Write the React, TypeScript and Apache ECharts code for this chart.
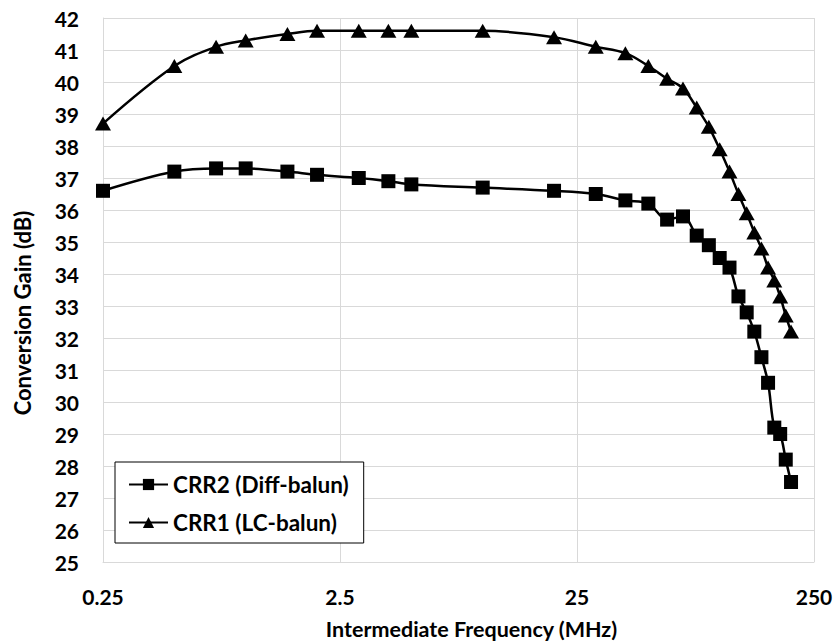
import React, { useEffect, useRef } from "react";
import * as echarts from "echarts";

const freqMHz = [0.25, 0.5, 0.75, 1, 1.5, 2, 3, 4, 5, 10, 20, 30, 40, 50, 60, 70, 80, 90, 100, 110, 120, 130, 140, 150, 160, 170, 180, 190, 200];
const crr2Gain = [36.6, 37.2, 37.3, 37.3, 37.2, 37.1, 37.0, 36.9, 36.8, 36.7, 36.6, 36.5, 36.3, 36.2, 35.7, 35.8, 35.2, 34.9, 34.5, 34.2, 33.3, 32.8, 32.2, 31.4, 30.6, 29.2, 29.0, 28.2, 27.5];
const crr1Gain = [38.7, 40.5, 41.1, 41.3, 41.5, 41.6, 41.6, 41.6, 41.6, 41.6, 41.4, 41.1, 40.9, 40.5, 40.1, 39.8, 39.2, 38.6, 37.9, 37.2, 36.5, 35.9, 35.3, 34.8, 34.2, 33.8, 33.3, 32.7, 32.2];
const xTickValues = [0.25, 2.5, 25, 250];
const seriesNames = ["CRR2 (Diff-balun)", "CRR1 (LC-balun)"];
const xTitle = "Intermediate Frequency (MHz)";
const yTitle = "Conversion Gain (dB)";

const FONT = "Lato";

export default function App() {
  const ref = useRef<HTMLDivElement>(null);
  useEffect(() => {
    document.body.style.margin = "0";
    const chart = echarts.init(ref.current!, undefined, { renderer: "svg" });
    const grid = "#d9d9d9";
    const pair = (ys: number[]) => freqMHz.map((f, i) => [f, ys[i]]);
    chart.setOption({
      animation: false,
      backgroundColor: "#ffffff",
      grid: { left: 103, right: 21, top: 18, bottom: 81, containLabel: false, outerBoundsMode: "none" },
      legend: {
        orient: "vertical",
        left: 115,
        top: 462,
        backgroundColor: "#ffffff",
        borderColor: "#000000",
        borderWidth: 1,
        borderRadius: 0,
        padding: [11, 15, 9, 13],
        itemGap: 15,
        itemWidth: 39,
        itemHeight: 14,
        textStyle: { fontFamily: FONT, fontWeight: "bold", fontSize: 22.5, color: "#000" },
        data: seriesNames,
      },
      xAxis: {
        type: "log",
        logBase: 10,
        min: 0.25,
        max: 250,
        name: xTitle,
        nameLocation: "middle",
        nameGap: 56,
        nameTextStyle: { fontFamily: FONT, fontWeight: "bold", fontSize: 21.5, color: "#000", padding: [0, 0, 0, 26] },
        axisLine: { show: true, lineStyle: { color: grid, width: 1 } },
        axisTick: { show: false, customValues: xTickValues },
        minorTick: { show: false },
        splitLine: { show: true, lineStyle: { color: grid, width: 1 } },
        axisLabel: {
          customValues: xTickValues,
          margin: 24,
          fontFamily: FONT,
          fontWeight: "bold",
          fontSize: 21,
          color: "#000",
          formatter: (v: number) => String(Number(Number(v).toPrecision(6))),
        },
      },
      yAxis: {
        type: "value",
        min: 25,
        max: 42,
        interval: 1,
        name: yTitle,
        nameLocation: "middle",
        nameGap: 70,
        nameRotate: 90,
        nameTextStyle: { fontFamily: FONT, fontWeight: "bold", fontSize: 22, color: "#000", padding: [0, 46, 0, 0] },
        axisLine: { show: true, lineStyle: { color: grid, width: 1 } },
        axisTick: { show: false },
        splitLine: { show: true, lineStyle: { color: grid, width: 1 } },
        axisLabel: { margin: 24, fontFamily: FONT, fontWeight: "bold", fontSize: 21, color: "#000" },
      },
      series: [
        {
          name: seriesNames[0],
          type: "line",
          data: pair(crr2Gain),
          smooth: 0.35,
          symbol: "rect",
          symbolSize: 14,
          itemStyle: { color: "#000" },
          lineStyle: { color: "#000", width: 2.5 },
          z: 3,
        },
        {
          name: seriesNames[1],
          type: "line",
          data: pair(crr1Gain),
          smooth: 0.35,
          symbol: "triangle",
          symbolSize: [16, 14],
          itemStyle: { color: "#000" },
          lineStyle: { color: "#000", width: 2.5 },
          z: 3,
        },
      ],
    });
    return () => chart.dispose();
  }, []);
  return <div ref={ref} style={{ width: 835, height: 643 }} />;
}
